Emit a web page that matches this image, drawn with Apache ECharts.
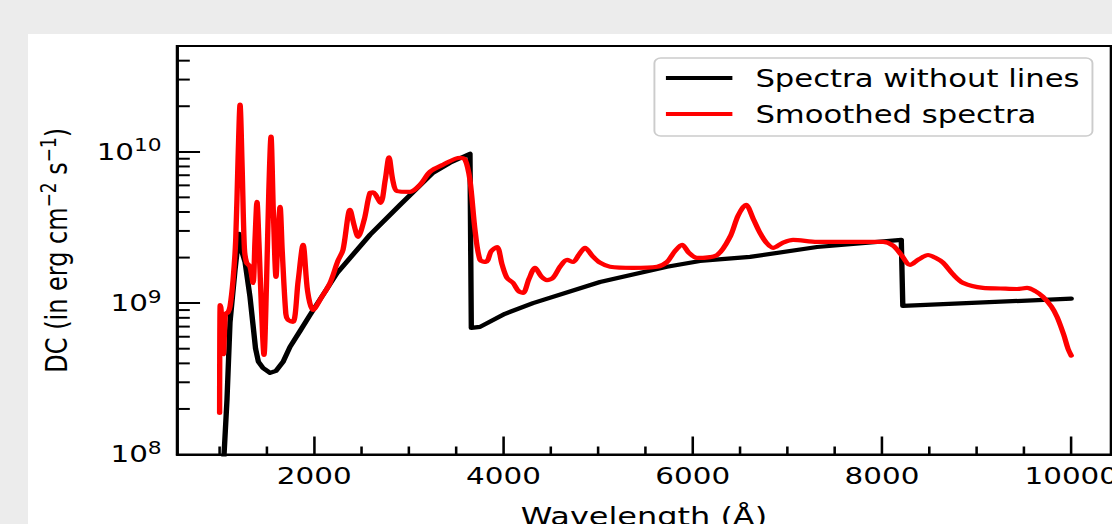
<!DOCTYPE html>
<html><head><meta charset="utf-8">
<script src="https://cdn.jsdelivr.net/npm/echarts@6/dist/echarts.min.js"></script>
<style>
html,body{margin:0;padding:0;background:#ececec;overflow:hidden;width:1112px;height:524px;}
#panel{position:absolute;left:28px;top:34px;right:0;bottom:0;background:#fff;}
#chart{position:absolute;left:0;top:0;width:870px;height:524px;transform:scaleX(1.27816);transform-origin:0 0;}
</style></head><body><div id="panel"></div><div id="chart"></div>
<script>
// Spectra without lines (continuum)
const continuumWave = [1000,1047,1078,1110,1163,1205,1237,1269,1321,1353,1380,1410,1459,1533,1596,1670,1744,1850,1956,2241,2590,2907,3255,3435,3646,3660,3752,4016,4312,5020,5728,6077,6606,7314,8204,8220,10000];
const continuumFlux = [3e7,1.0e8,2.3e8,7.5e8,1.66e9,2.87e9,2.18e9,1.87e9,1.10e9,7.2e8,5.0e8,4.1e8,3.73e8,3.46e8,3.57e8,4.09e8,5.14e8,6.55e8,8.36e8,1.58e9,2.83e9,4.46e9,7.27e9,8.46e9,9.70e9,6.86e8,6.97e8,8.5e8,1.0e9,1.38e9,1.74e9,1.90e9,2.02e9,2.35e9,2.62e9,9.59e8,1.07e9];
// Smoothed spectra
const smoothWave = [1000,1006,1016,1030,1040,1062,1089,1110,1142,1170,1195,1216,1238,1262,1285,1321,1353,1374,1395,1416,1440,1469,1495,1520,1543,1568,1596,1617,1639,1662,1700,1723,1776,1830,1882,1930,1987,2080,2167,2250,2304,2378,2420,2463,2530,2590,2621,2700,2750,2790,2830,2875,3012,3118,3224,3361,3541,3594,3646,3699,3752,3816,3870,3932,3985,4037,4101,4160,4207,4270,4333,4400,4460,4524,4600,4672,4735,4800,4862,4940,5020,5126,5369,5623,5728,5810,5887,5960,6045,6257,6394,6480,6563,6640,6711,6780,6849,6950,7060,7314,7663,8011,8117,8200,8296,8390,8487,8560,8645,8750,8856,9068,9250,9427,9533,9620,9702,9790,9850,9920,9966,10000];
const smoothFlux = [1.88e8,9.7e8,9.0e8,5.0e8,4.6e8,8.5e8,8.7e8,9.5e8,1.42e9,2.6e9,9.0e9,2.05e10,8.0e9,2.3e9,1.85e9,1.74e9,1.36e9,2.6e9,4.67e9,2.5e9,1.0e9,4.55e8,1.3e9,5.5e9,1.26e10,4.0e9,1.49e9,2.8e9,4.33e9,2.2e9,8.5e8,7.75e8,7.52e8,1.4e9,2.43e9,1.2e9,9.02e8,1.1e9,1.36e9,1.9e9,2.25e9,4.14e9,3.3e9,2.74e9,3.6e9,5.36e9,5.4e9,4.6e9,6.5e9,9.2e9,6.5e9,5.5e9,5.44e9,6.05e9,7.38e9,8.21e9,9.13e9,8.9e9,6.5e9,3.05e9,1.93e9,1.87e9,2.2e9,2.35e9,1.8e9,1.47e9,1.36e9,1.2e9,1.17e9,1.45e9,1.71e9,1.5e9,1.42e9,1.47e9,1.75e9,1.93e9,1.87e9,2.1e9,2.32e9,2.05e9,1.85e9,1.74e9,1.71e9,1.74e9,1.87e9,2.2e9,2.43e9,2.15e9,1.99e9,2.08e9,2.74e9,3.8e9,4.46e9,3.6e9,2.91e9,2.5e9,2.32e9,2.5e9,2.62e9,2.54e9,2.54e9,2.54e9,2.4e9,2.1e9,1.79e9,1.95e9,2.08e9,2.0e9,1.85e9,1.55e9,1.36e9,1.26e9,1.25e9,1.24e9,1.26e9,1.2e9,1.10e9,9.5e8,8.11e8,6.2e8,5.0e8,4.5e8];
// Ticks
const xMajorTicks = [2000,4000,6000,8000,10000];
const xMinorTicks = [1000,1500,2500,3000,3500,4500,5000,5500,6500,7000,7500,8500,9000,9500];
const yMinorTicks = [2e8,3e8,4e8,5e8,6e8,7e8,8e8,9e8,2e9,3e9,4e9,5e9,6e9,7e9,8e9,9e9,2e10,3e10,4e10];
const X_MIN = 550, X_MAX = 10420, Y_MIN = 1e8, Y_MAX = 5e10;

const FONT = 'DejaVu Sans';
const chart = echarts.init(document.getElementById('chart'), null, {renderer: 'svg'});

function minorTickSeries(data, vertical, len) {
  return {
    type: 'custom', silent: true, z: 6, clip: false,
    data: data,
    renderItem: function (params, api) {
      const p = api.coord([api.value(0), api.value(1)]);
      const shape = vertical ? {x1: p[0], y1: p[1], x2: p[0], y2: p[1] - len}
                             : {x1: p[0], y1: p[1], x2: p[0] + len, y2: p[1]};
      return {type: 'line', shape: shape, style: {stroke: '#000', lineWidth: 2}};
    }
  };
}

chart.setOption({
  animation: false,
  backgroundColor: 'transparent',
  grid: {left: 138.5, top: 46, width: 730.7, height: 408.5, outerBoundsMode: 'none', containLabel: false,
         show: true, borderColor: '#000', borderWidth: 2, backgroundColor: 'transparent'},
  legend: {
    data: ['Spectra without lines', 'Smoothed spectra'],
    orient: 'vertical', left: 512, top: 58,
    icon: 'rect',
    padding: [8, 10, 10, 9], itemGap: 12, itemWidth: 52, itemHeight: 4.2,
    backgroundColor: '#fff', borderColor: '#cccccc', borderWidth: 1.5, borderRadius: 5,
    textStyle: {fontFamily: FONT, fontSize: 24, color: '#000', padding: [0, 0, 0, 13], lineHeight: 24},
    z: 10
  },
  xAxis: {
    type: 'value', min: X_MIN, max: X_MAX,
    name: 'Wavelength (Å)', nameLocation: 'middle', nameGap: 49,
    nameTextStyle: {fontFamily: FONT, fontSize: 25, color: '#000'},
    axisLine: {show: true, onZero: false, lineStyle: {color: '#000', width: 2}},
    axisTick: {show: true, inside: true, length: 18, lineStyle: {color: '#000', width: 2}, customValues: xMajorTicks},
    axisLabel: {show: true, margin: 10, fontFamily: FONT, fontSize: 23, color: '#000', customValues: xMajorTicks, formatter: v => String(v)},
    splitLine: {show: false}
  },
  yAxis: {
    type: 'log', logBase: 10, min: Y_MIN, max: Y_MAX,
    name: '{a|DC (in erg cm}{s|−2}{a| s}{s|−1}{a|)}',
    nameLocation: 'middle', nameGap: 80,
    nameTextStyle: {rich: {
      a: {fontFamily: FONT, fontSize: 24, color: '#000'},
      s: {fontFamily: FONT, fontSize: 17, color: '#000', padding: [0, 0, 12, 0]}
    }},
    axisLine: {show: true, lineStyle: {color: '#000', width: 2}},
    axisTick: {show: true, inside: true, length: 18, lineStyle: {color: '#000', width: 2}},
    axisLabel: {
      show: true, margin: 12,
      formatter: function (v) {
        const l = Math.log10(v), e = Math.round(l);
        if (Math.abs(l - e) > 1e-6) return '';
        return '{b|10}{e|' + e + '}';
      },
      rich: {
        b: {fontFamily: FONT, fontSize: 23, color: '#000'},
        e: {fontFamily: FONT, fontSize: 17, color: '#000', padding: [0, 0, 12, 0]}
      }
    },
    splitLine: {show: false},
    minorTick: {show: false}
  },
  series: [
    {
      name: 'Spectra without lines', type: 'line', z: 3,
      data: continuumWave.map((w, i) => [w, continuumFlux[i]]),
      showSymbol: false, symbol: 'none',
      lineStyle: {color: '#000', width: 4.2, join: 'round', cap: 'round'},
      itemStyle: {color: '#000'}
    },
    {
      name: 'Smoothed spectra', type: 'line', z: 4, smooth: 0.3,
      data: smoothWave.map((w, i) => [w, smoothFlux[i]]),
      showSymbol: false, symbol: 'none',
      lineStyle: {color: '#ff0000', width: 4.2, join: 'round', cap: 'round'},
      itemStyle: {color: '#ff0000'}
    },
    minorTickSeries(xMinorTicks.map(v => [v, Y_MIN]), true, 8),
    minorTickSeries(yMinorTicks.map(v => [X_MIN, v]), false, 10)
  ]
});
</script>
</body></html>
